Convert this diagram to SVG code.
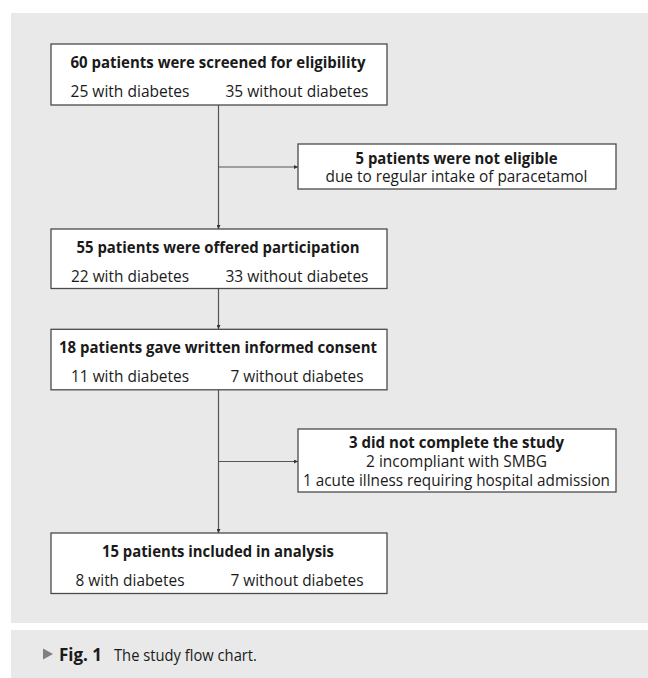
<svg xmlns="http://www.w3.org/2000/svg" width="648" height="678" viewBox="0 0 648 678">
<style>
.panel{fill:#e9e9ea}
.box{fill:#ffffff;stroke:#4a4a4a;stroke-width:1.3}
.t{font-family:"Open Sans","Noto Sans","Liberation Sans",sans-serif;font-size:15.5px;fill:#1a1a1a;text-anchor:middle}
.b{font-weight:bold;font-size:16px}
.c{stroke:#555555;stroke-width:1.2;fill:none}
.cap{font-family:"Open Sans","Liberation Sans",sans-serif;font-size:17px;fill:#1a1a1a}
</style>
<defs>
<marker id="ah" viewBox="0 0 6 6" refX="6" refY="3" markerWidth="4" markerHeight="4" orient="auto" markerUnits="userSpaceOnUse">
<path d="M0,0 L6,3 L0,6 Z" fill="#333333"/>
</marker>
</defs>
<rect class="panel" x="11" y="13" width="637" height="610"/>
<rect class="panel" x="11" y="630" width="637" height="48"/>

<g id="connectors">
<line class="c" x1="218.5" y1="105" x2="218.5" y2="229" marker-end="url(#ah)"/>
<line class="c" x1="218.5" y1="167" x2="298" y2="167" marker-end="url(#ah)"/>
<line class="c" x1="218.5" y1="289" x2="218.5" y2="329" marker-end="url(#ah)"/>
<line class="c" x1="218.5" y1="390" x2="218.5" y2="533" marker-end="url(#ah)"/>
<line class="c" x1="218.5" y1="461.5" x2="298" y2="461.5" marker-end="url(#ah)"/>
</g>

<g id="screened">
<rect class="box" x="51" y="44" width="336" height="61"/>
<text class="t b" x="218" y="68" textLength="295" lengthAdjust="spacingAndGlyphs">60 patients were screened for eligibility</text>
<text class="t" x="130" y="97" textLength="119" lengthAdjust="spacingAndGlyphs">25 with diabetes</text>
<text class="t" x="297" y="97" textLength="143" lengthAdjust="spacingAndGlyphs">35 without diabetes</text>
</g>

<g id="noteligible">
<rect class="box" x="298" y="144" width="318" height="45"/>
<text class="t b" x="456.5" y="163.5" textLength="202" lengthAdjust="spacingAndGlyphs">5 patients were not eligible</text>
<text class="t" x="456.5" y="182" textLength="262" lengthAdjust="spacingAndGlyphs">due to regular intake of paracetamol</text>
</g>

<g id="offered">
<rect class="box" x="51" y="229" width="336" height="59.5"/>
<text class="t b" x="218" y="253.3" textLength="283" lengthAdjust="spacingAndGlyphs">55 patients were offered participation</text>
<text class="t" x="130" y="282.3" textLength="118" lengthAdjust="spacingAndGlyphs">22 with diabetes</text>
<text class="t" x="297" y="282.3" textLength="143" lengthAdjust="spacingAndGlyphs">33 without diabetes</text>
</g>

<g id="consent">
<rect class="box" x="51" y="329.3" width="336" height="60.5"/>
<text class="t b" x="218" y="353.3" textLength="318" lengthAdjust="spacingAndGlyphs">18 patients gave written informed consent</text>
<text class="t" x="130" y="382.3" textLength="118" lengthAdjust="spacingAndGlyphs">11 with diabetes</text>
<text class="t" x="297" y="382.3" textLength="133" lengthAdjust="spacingAndGlyphs">7 without diabetes</text>
</g>

<g id="notcomplete">
<rect class="box" x="298" y="429" width="318" height="63"/>
<text class="t b" x="456.5" y="448" textLength="215" lengthAdjust="spacingAndGlyphs">3 did not complete the study</text>
<text class="t" x="456.5" y="467" textLength="181" lengthAdjust="spacingAndGlyphs">2 incompliant with SMBG</text>
<text class="t" x="456.5" y="485.5" textLength="307" lengthAdjust="spacingAndGlyphs">1 acute illness requiring hospital admission</text>
</g>

<g id="included">
<rect class="box" x="51" y="533" width="336" height="60.5"/>
<text class="t b" x="218" y="557" textLength="232" lengthAdjust="spacingAndGlyphs">15 patients included in analysis</text>
<text class="t" x="130" y="586" textLength="109" lengthAdjust="spacingAndGlyphs">8 with diabetes</text>
<text class="t" x="297" y="586" textLength="133" lengthAdjust="spacingAndGlyphs">7 without diabetes</text>
</g>

<g id="caption">
<path d="M43,648.5 L53,654 L43,659.5 Z" fill="#808080"/>
<text class="cap" x="59" y="660.5" font-weight="bold" textLength="43" lengthAdjust="spacingAndGlyphs">Fig. 1</text>
<text class="cap" x="114" y="660.5" textLength="143" lengthAdjust="spacingAndGlyphs">The study flow chart.</text>
</g>
</svg>
